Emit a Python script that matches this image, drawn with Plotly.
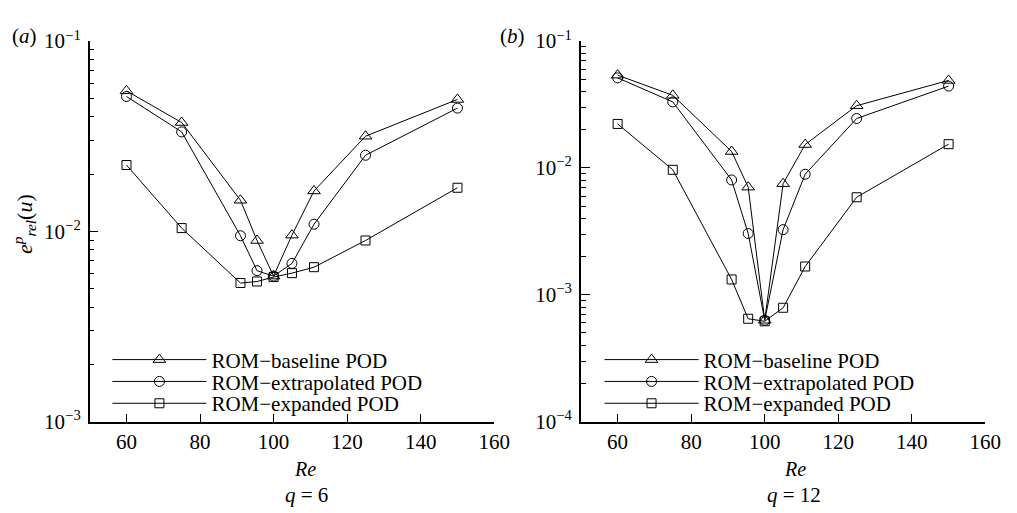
import plotly.graph_objects as go

re_vals = [60, 75, 91, 95.5, 100, 105, 111, 125, 150]

# panel (a): q = 6
a_baseline = [0.0547, 0.0373, 0.01456, 0.00895, 0.00582, 0.00955, 0.0163, 0.0316, 0.0493]
a_extrap = [0.0511, 0.0333, 0.00948, 0.00621, 0.00582, 0.00678, 0.0109, 0.0251, 0.0444]
a_expand = [0.0223, 0.0104, 0.00535, 0.00545, 0.00575, 0.00603, 0.00648, 0.00895, 0.01694]

# panel (b): q = 12
b_baseline = [0.0538, 0.0373, 0.01346, 0.00705, 0.00063, 0.00751, 0.01528, 0.0309, 0.0489]
b_extrap = [0.0512, 0.0331, 0.00803, 0.00304, 0.00063, 0.00326, 0.00891, 0.0245, 0.0441]
b_expand = [0.0222, 0.00966, 0.00132, 0.000647, 0.000618, 0.00079, 0.00167, 0.00587, 0.01538]

series_names = ["ROM\u2212baseline POD", "ROM\u2212extrapolated POD", "ROM\u2212expanded POD"]
symbols = ["triangle-up-open", "circle-open", "square-open"]
sizes = [11, 10, 9]

x_ticks = [60, 80, 100, 120, 140, 160]
a_yticks = [1e-3, 1e-2, 1e-1]
a_ytext = ["10<sup>\u22123</sup>", "10<sup>\u22122</sup>", "10<sup>\u22121</sup>"]
b_yticks = [1e-4, 1e-3, 1e-2, 1e-1]
b_ytext = ["10<sup>\u22124</sup>", "10<sup>\u22123</sup>", "10<sup>\u22122</sup>", "10<sup>\u22121</sup>"]
mantissas = [2, 3, 4, 5, 6, 7, 8, 9]

FONT = "Liberation Serif"
W, H = 1017, 513

a_minor = [m * 10.0 ** e for e in (-3, -2) for m in mantissas]
b_minor = [m * 10.0 ** e for e in (-4, -3, -2) for m in mantissas]

fig = go.Figure()

legend_rows = [356, 379, 402]
leg_layout = {}
k = 0
for panel, (datasets, xa, ya_, lx) in enumerate([
        ([a_baseline, a_extrap, a_expand], "x", "y", 101),
        ([b_baseline, b_extrap, b_expand], "x2", "y2", 601)]):
    for i, (ys, name) in enumerate(zip(datasets, series_names)):
        k += 1
        lname = "legend" if k == 1 else f"legend{k}"
        fig.add_trace(go.Scatter(
            x=re_vals, y=ys, name=name, mode="lines+markers",
            line=dict(color="black", width=1),
            marker=dict(symbol=symbols[i], size=sizes[i], color="black",
                        line=dict(width=1, color="black")),
            xaxis=xa, yaxis=ya_, legend=lname))
        leg_layout[lname] = dict(
            x=lx / W, y=1 - legend_rows[i] / H, xanchor="left", yanchor="middle",
            bgcolor="rgba(0,0,0,0)", font=dict(family=FONT, size=21, color="black"),
            itemwidth=94, borderwidth=0)

ax_common = dict(showline=True, linecolor="black", linewidth=1.5, ticks="inside",
                 tickcolor="black", tickwidth=1.2, showgrid=False, zeroline=False,
                 tickfont=dict(family=FONT, size=21, color="black"), mirror=False)

ya = 1 - 421 / H
yb = 1 - 20 / H

fig.update_layout(
    width=W, height=H,
    margin=dict(l=0, r=0, t=0, b=0),
    paper_bgcolor="white", plot_bgcolor="white",
    font=dict(family=FONT, size=21, color="black"),
    xaxis=dict(domain=[83 / W, 494 / W], range=[50, 160], tickvals=x_ticks, ticklen=8,
               anchor="y", **ax_common),
    yaxis=dict(domain=[ya, yb], type="log", range=[-3, -1], tickvals=a_yticks, ticktext=a_ytext,
               ticklen=9, anchor="x", ticklabelstandoff=3,
               minor=dict(ticks="inside", ticklen=5, tickcolor="black", tickwidth=1.2,
                          showgrid=False, tickvals=a_minor),
               **ax_common),
    xaxis2=dict(domain=[582 / W, 993 / W], range=[50, 160], tickvals=x_ticks, ticklen=8,
                anchor="y2", **ax_common),
    yaxis2=dict(domain=[ya, yb], type="log", range=[-4, -1], tickvals=b_yticks, ticktext=b_ytext,
                ticklen=9, anchor="x2", ticklabelstandoff=3,
                minor=dict(ticks="inside", ticklen=5, tickcolor="black", tickwidth=1.2,
                           showgrid=False, tickvals=b_minor),
                **ax_common),
    showlegend=True,
    **leg_layout,
)

annots = [
    dict(x=302 / W, y=1 - 471 / H, text="<i>Re</i>", size=20),
    dict(x=303 / W, y=1 - 498 / H, text="<i>q</i> = 6", size=21),
    dict(x=800 / W, y=1 - 471 / H, text="<i>Re</i>", size=20),
    dict(x=799 / W, y=1 - 498 / H, text="<i>q</i> = 12", size=21),
    dict(x=17 / W, y=1 - 15 / H, text="(<i>a</i>)", size=21),
    dict(x=513 / W, y=1 - 15 / H, text="(<i>b</i>)", size=21),
    dict(x=16 / W, y=1 - 213 / H, text="<i>e</i><sup><i>p</i></sup><sub><i>rel</i></sub>(<i>u</i>)",
         textangle=-90, size=22),
]
for a in annots:
    size = a.pop("size")
    fig.add_annotation(xref="paper", yref="paper", showarrow=False,
                       xanchor="center", yanchor="middle",
                       font=dict(family=FONT, size=size, color="black"), **a)

fig.write_html("out.html")
